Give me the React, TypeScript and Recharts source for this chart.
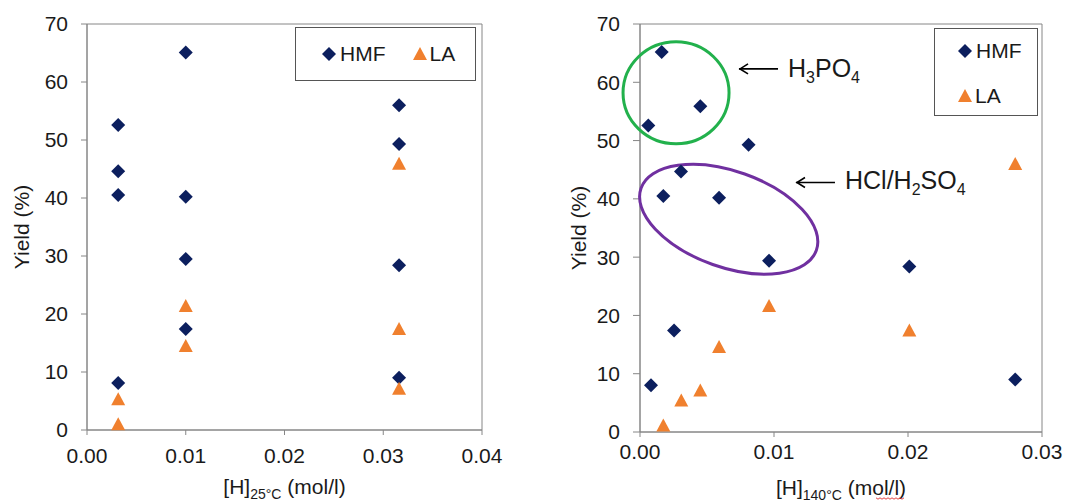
import { ScatterChart, Scatter, XAxis, YAxis, ReferenceArea, ReferenceDot, Legend } from 'recharts';

// Yield of HMF / LA against proton concentration, at 25 °C (left) and at 140 °C (right).
const LEFT_HMF = [
  { h: 0.00316, y: 52.6 }, { h: 0.00316, y: 44.6 }, { h: 0.00316, y: 40.5 }, { h: 0.00316, y: 8.1 },
  { h: 0.01, y: 65.1 }, { h: 0.01, y: 40.2 }, { h: 0.01, y: 29.5 }, { h: 0.01, y: 17.4 },
  { h: 0.0316, y: 56.0 }, { h: 0.0316, y: 49.3 }, { h: 0.0316, y: 28.4 }, { h: 0.0316, y: 9.0 },
];
const LEFT_LA = [
  { h: 0.00316, y: 5.3 }, { h: 0.00316, y: 1.0 },
  { h: 0.01, y: 21.4 }, { h: 0.01, y: 14.5 },
  { h: 0.0316, y: 45.9 }, { h: 0.0316, y: 17.4 }, { h: 0.0316, y: 7.1 },
];
const RIGHT_HMF = [
  { h: 0.00062, y: 52.6 }, { h: 0.00162, y: 65.2 }, { h: 0.0045, y: 55.9 }, { h: 0.0081, y: 49.3 },
  { h: 0.00306, y: 44.7 }, { h: 0.00174, y: 40.5 }, { h: 0.0059, y: 40.2 }, { h: 0.00963, y: 29.4 },
  { h: 0.0201, y: 28.4 }, { h: 0.00254, y: 17.4 }, { h: 0.00082, y: 8.0 }, { h: 0.028, y: 9.0 },
];
const RIGHT_LA = [
  { h: 0.00174, y: 1.1 }, { h: 0.00308, y: 5.4 }, { h: 0.0045, y: 7.1 }, { h: 0.0059, y: 14.6 },
  { h: 0.00963, y: 21.6 }, { h: 0.0201, y: 17.4 }, { h: 0.028, y: 46.0 },
];
const Y_TICKS = [0, 10, 20, 30, 40, 50, 60, 70];
const LEFT_X_TICKS = [0, 0.01, 0.02, 0.03, 0.04];
const RIGHT_X_TICKS = [0, 0.01, 0.02, 0.03];

// acid groups circled on the 140 °C panel, and where their arrows point
const GROUPS = [
  { key: 'phos', h: 0.00269, y: 58.2 },
  { key: 'mineral', h: 0.00662, y: 36.5 },
];
const NOTES = [
  { key: 'phos', h: 0.00739, y: 62.3, parts: [['H', ''], ['3', 'sub'], ['PO', ''], ['4', 'sub']] },
  { key: 'mineral', h: 0.01164, y: 42.8, parts: [['HCl/H', ''], ['2', 'sub'], ['SO', ''], ['4', 'sub']] },
];

const NAVY = '#0c1f5e';
const ORANGE = '#f0802e';
const AXIS = '#868686';
const INK = '#1a1a1a';
const FONT = '"Liberation Sans", Arial, sans-serif';
const RING: Record<string, { rx: number; ry: number; rot: number; color: string }> = {
  phos: { rx: 53, ry: 51, rot: 0, color: '#22b14c' },
  mineral: { rx: 93, ry: 48, rot: 19.5, color: '#7030a0' },
};

const Diamond = ({ cx, cy }: any) => (
  <polygon points={`${cx},${cy - 7} ${cx + 7},${cy} ${cx},${cy + 7} ${cx - 7},${cy}`} fill={NAVY} />
);
const Triangle = ({ cx, cy }: any) => (
  <polygon points={`${cx},${cy - 7} ${cx + 7},${cy + 6} ${cx - 7},${cy + 6}`} fill={ORANGE} />
);

function Icon({ name }: { name: string }) {
  return (
    <svg width={14} height={14} style={{ display: 'block' }}>
      {name === 'HMF' ? <Diamond cx={7} cy={7} /> : <Triangle cx={7} cy={7} />}
    </svg>
  );
}

function LegendBox({ payload, vertical }: any) {
  const items = (payload || []).map((p: any) => String(p.value));
  return (
    <div style={{
      border: '1px solid #555', background: '#fff', boxSizing: 'border-box',
      width: vertical ? 104 : 181, height: vertical ? 88 : 54,
      display: 'flex', flexDirection: vertical ? 'column' : 'row',
      alignItems: vertical ? 'flex-start' : 'center',
      padding: vertical ? '10px 0 0 23px' : '0 0 0 26px', gap: vertical ? 21 : 27,
      fontFamily: FONT, fontSize: 21, color: INK,
    }}>
      {items.map((n: string) => (
        <div key={n} style={{ display: 'flex', alignItems: 'center', gap: n === 'HMF' ? 4 : 3, height: 24 }}>
          <Icon name={n} />
          <span>{n}</span>
        </div>
      ))}
    </div>
  );
}

function XTitle({ viewBox, sub, drop, squiggle }: any) {
  const x = viewBox.x + viewBox.width / 2;
  const y = viewBox.y + drop;
  let wave = '';
  if (squiggle) {
    for (let i = 0; i <= 14; i++) wave += `${i ? 'L' : 'M'}${x + 35 + i * 2},${y + 3 + (i % 2 ? 1.2 : -0.2)} `;
  }
  return (
    <g>
      <text x={x} y={y} textAnchor="middle" fontFamily={FONT} fontSize={21} fill={INK}>
        <tspan>[H]</tspan>
        <tspan dy={5} fontSize={14}>{sub}</tspan>
        <tspan dy={-5}> (mol/l)</tspan>
      </text>
      {squiggle && <path d={wave} fill="none" stroke="#e03030" strokeWidth={0.9} />}
    </g>
  );
}

function YTitle({ viewBox, off }: any) {
  const x = viewBox.x + off;
  const y = viewBox.y + viewBox.height / 2;
  return (
    <text x={x} y={y} transform={`rotate(-90 ${x} ${y})`} textAnchor="middle" dominantBaseline="central"
      fontFamily={FONT} fontSize={21} fill={INK}>Yield (%)</text>
  );
}

const Ring = (key: string) => ({ cx, cy }: any) => {
  const r = RING[key];
  return (
    <ellipse cx={cx} cy={cy} rx={r.rx} ry={r.ry} transform={`rotate(${r.rot} ${cx} ${cy})`}
      fill="none" stroke={r.color} strokeWidth={3} />
  );
};

const Note = (parts: string[][], lift: number) => ({ cx, cy }: any) => (
  <g>
    <line x1={cx} y1={cy} x2={cx + 39} y2={cy} stroke="#000" strokeWidth={1.6} />
    <polyline points={`${cx + 9},${cy - 5} ${cx + 1},${cy} ${cx + 9},${cy + 5}`} fill="none" stroke="#000" strokeWidth={1.6} />
    <text x={cx + 49} y={cy + lift} fontFamily={FONT} fontSize={25} fill={INK}>
      {parts.map(([t, kind], i) => (
        <tspan key={i} dy={kind === 'sub' ? 6 : (i > 0 && parts[i - 1][1] === 'sub' ? -6 : 0)} fontSize={kind === 'sub' ? 16 : 25}>{t}</tspan>
      ))}
    </text>
  </g>
);

const tickStyle = { fill: INK, fontSize: 21, fontFamily: FONT };

export default function App() {
  return (
    <div style={{ position: 'absolute', left: 0, top: 0, width: 1075, height: 502, background: '#fff' }}>
      <div style={{ position: 'absolute', left: 0, top: 0 }}>
        <ScatterChart width={540} height={502} margin={{ top: 24, right: 58, bottom: 0, left: 0 }}>
          <XAxis type="number" dataKey="h" domain={[0, 0.04]} ticks={LEFT_X_TICKS} interval={0}
            tickFormatter={(v: number) => v.toFixed(2)} height={72} tickSize={5} tickMargin={13}
            stroke={AXIS} tick={tickStyle} label={<XTitle sub="25°C" drop={64} />} />
          <YAxis type="number" dataKey="y" domain={[0, 70]} ticks={Y_TICKS} interval={0} width={87}
            tickSize={6} tickMargin={13} stroke={AXIS} tick={tickStyle} label={<YTitle off={21} />} />
          <ReferenceArea x1={0} x2={0.04} y1={0} y2={70} fill="none" stroke={AXIS} />
          <Scatter name="HMF" data={LEFT_HMF} fill={NAVY} shape={Diamond} isAnimationActive={false} />
          <Scatter name="LA" data={LEFT_LA} fill={ORANGE} shape={Triangle} isAnimationActive={false} />
          <Legend layout="vertical" align="center" verticalAlign="middle"
            wrapperStyle={{ left: 295, top: 27, width: 181 }} content={<LegendBox />} />
        </ScatterChart>
      </div>
      <div style={{ position: 'absolute', left: 540, top: 0 }}>
        <ScatterChart width={535} height={502} margin={{ top: 24, right: 33, bottom: 0, left: 0 }}>
          <XAxis type="number" dataKey="h" domain={[0, 0.03]} ticks={RIGHT_X_TICKS} interval={0}
            tickFormatter={(v: number) => v.toFixed(2)} height={70} tickSize={5} tickMargin={7}
            stroke={AXIS} tick={tickStyle} label={<XTitle sub="140°C" drop={63} squiggle />} />
          <YAxis type="number" dataKey="y" domain={[0, 70]} ticks={Y_TICKS} interval={0} width={100}
            tickSize={7} tickMargin={13} stroke={AXIS} tick={tickStyle} label={<YTitle off={38} />} />
          <ReferenceArea x1={0} x2={0.03} y1={0} y2={70} fill="none" stroke={AXIS} />
          {GROUPS.map((g) => (
            <ReferenceDot key={g.key} x={g.h} y={g.y} r={1} shape={Ring(g.key)} />
          ))}
          {NOTES.map((n, i) => (
            <ReferenceDot key={n.key} x={n.h} y={n.y} r={1} ifOverflow="visible" shape={Note(n.parts, i === 0 ? 8 : 6)} />
          ))}
          <Scatter name="HMF" data={RIGHT_HMF} fill={NAVY} shape={Diamond} isAnimationActive={false} />
          <Scatter name="LA" data={RIGHT_LA} fill={ORANGE} shape={Triangle} isAnimationActive={false} />
          <Legend layout="vertical" align="center" verticalAlign="middle"
            wrapperStyle={{ left: 394, top: 28, width: 104 }} content={<LegendBox vertical />} />
        </ScatterChart>
      </div>
    </div>
  );
}
